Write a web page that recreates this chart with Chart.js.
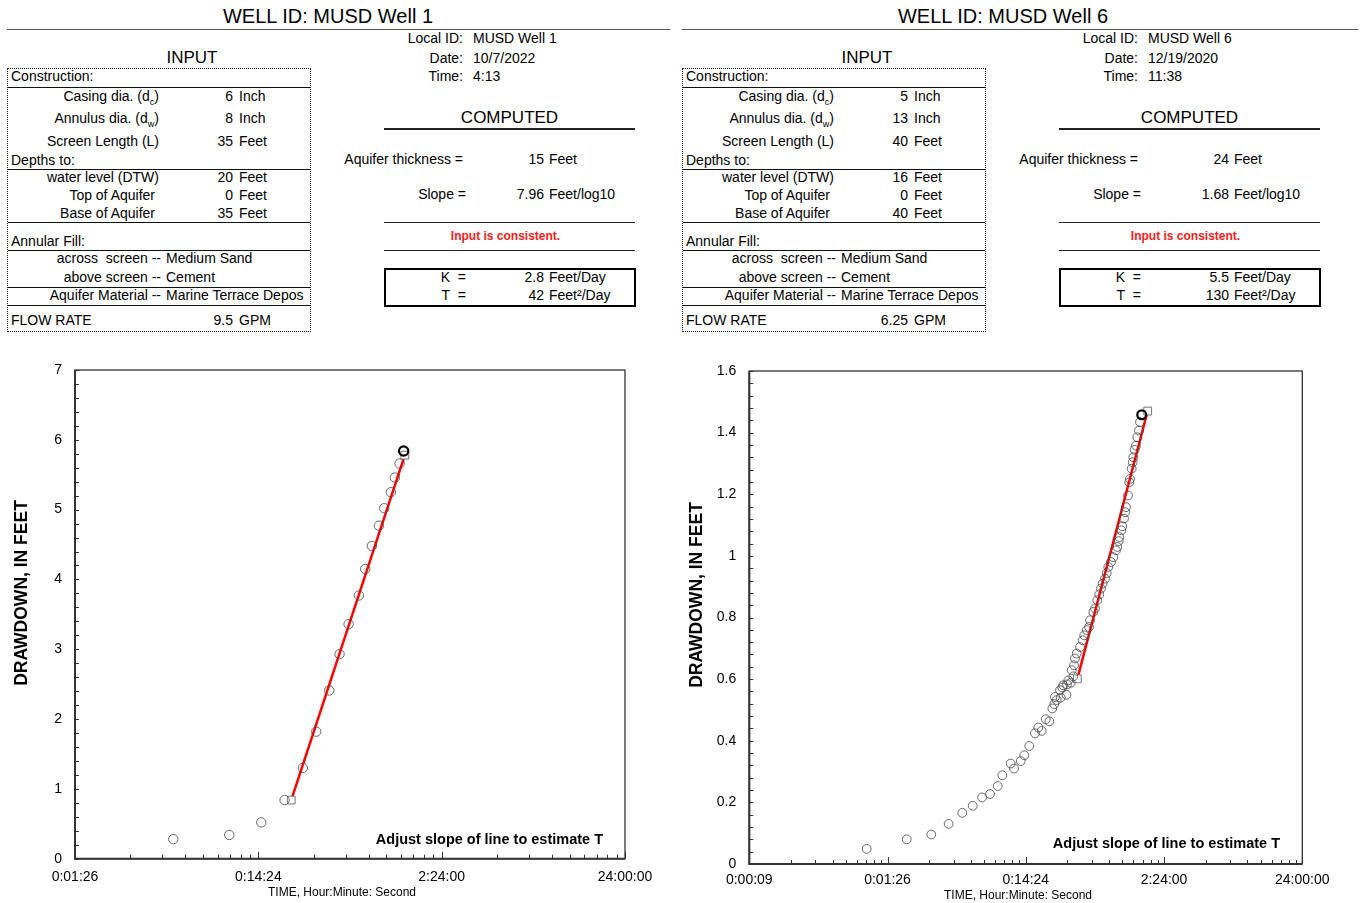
<!DOCTYPE html>
<html>
<head>
<meta charset="utf-8">
<script src="https://cdn.jsdelivr.net/npm/chart.js@4.4.0/dist/chart.umd.min.js"></script>
<style>
  body { margin: 0; background: #fff; width: 1364px; height: 903px; position: relative; overflow: hidden;
         font-family: "Liberation Sans", Arial, sans-serif; color: #000; }
  .t { position: absolute; white-space: nowrap; font-size: 14px; height: 18px; line-height: 18px; }
  .t sub { font-size: 9px; line-height: 0; }
  .rule { position: absolute; }
  canvas { position: absolute; }
</style>
</head>
<body>
<canvas id="well1" width="680" height="553" style="left:0;top:350px"></canvas>
<canvas id="well6" width="684" height="553" style="left:680px;top:350px"></canvas>
<script>
// ---- data (time in seconds, drawdown in feet) ----
const well1Time = [297, 600, 896, 1201, 1512, 1788, 2105, 2396, 2685, 3056, 3308, 3597, 3929, 4199, 4566, 4801, 5092, 5360];
const well1Drawdown = [0.28, 0.34, 0.52, 0.84, 1.30, 1.82, 2.41, 2.93, 3.36, 3.77, 4.15, 4.48, 4.77, 5.02, 5.25, 5.46, 5.66, 5.84];
const well1LineTime = [1306, 5440];
const well1LineDrawdown = [0.84, 5.78];

const well6Time = [61, 119, 179, 239, 300, 357, 417, 476, 541, 584, 672, 710, 794, 843, 916, 1007, 1064, 1126,
  1204, 1278, 1344, 1389, 1405, 1446, 1528, 1545, 1587, 1613, 1700, 1716, 1754, 1826, 1856, 1906, 1930, 1961,
  2017, 2131, 2229, 2289, 2383, 2476, 2518, 2659, 2735, 2842, 2938, 3023, 3110, 3232, 3325, 3414, 3571, 3711,
  3881, 3966, 4060, 4100, 4240, 4311, 4434, 4531, 4585, 4741, 4844, 4901, 5041, 5125, 5178, 5300, 5416, 5535,
  5694, 5789, 5956];
const well6Drawdown = [0.049, 0.080, 0.096, 0.130, 0.166, 0.189, 0.216, 0.227, 0.253, 0.288, 0.326, 0.310, 0.334,
  0.353, 0.383, 0.424, 0.443, 0.432, 0.470, 0.463, 0.505, 0.519, 0.542, 0.532, 0.564, 0.540, 0.573, 0.580, 0.549,
  0.583, 0.596, 0.588, 0.629, 0.609, 0.645, 0.667, 0.683, 0.704, 0.726, 0.742, 0.759, 0.769, 0.791, 0.818, 0.829,
  0.856, 0.875, 0.894, 0.910, 0.926, 0.944, 0.964, 0.980, 0.996, 1.018, 1.029, 1.048, 1.061, 1.083, 1.096, 1.121,
  1.142, 1.158, 1.196, 1.239, 1.250, 1.283, 1.304, 1.320, 1.344, 1.358, 1.385, 1.407, 1.434, 1.458];
const well6LineTime = [2038, 6580];
const well6LineDrawdown = [0.601, 1.47];

const well1XTicks = [86.4, 864, 8640, 86400];
const well1XLabels = ['0:01:26', '0:14:24', '2:24:00', '24:00:00'];
const well6XTicks = [8.64, 86.4, 864, 8640, 86400];
const well6XLabels = ['0:00:09', '0:01:26', '0:14:24', '2:24:00', '24:00:00'];
const well1YTicks = [0, 1, 2, 3, 4, 5, 6, 7];
const well1YLabels = ['0', '1', '2', '3', '4', '5', '6', '7'];
const well6YTicks = [0, 0.2, 0.4, 0.6, 0.8, 1.0, 1.2, 1.4, 1.6];
const well6YLabels = ['0', '0.2', '0.4', '0.6', '0.8', '1', '1.2', '1.4', '1.6'];

// ---- header sheet values ----
const inputLabels = ['Casing dia. (d<sub>c</sub>)', 'Annulus dia. (d<sub>w</sub>)', 'Screen Length (L)',
  'water level (DTW)', 'Top of Aquifer', 'Base of Aquifer'];
const inputUnits = ['Inch', 'Inch', 'Feet', 'Feet', 'Feet', 'Feet'];
const well1Input = ['6', '8', '35', '20', '0', '35'];
const well6Input = ['5', '13', '40', '16', '0', '40'];
const well1Meta = ['MUSD Well 1', '10/7/2022', '4:13'];
const well6Meta = ['MUSD Well 6', '12/19/2020', '11:38'];
const well1Computed = ['15', '7.96', '2.8', '42'];
const well6Computed = ['24', '1.68', '5.5', '130'];
const well1Flow = '9.5';
const well6Flow = '6.25';

const fam = '"Liberation Sans", Arial, sans-serif';

function txt(x, y, s, align, style) {
  const d = document.createElement('div');
  d.className = 't';
  d.innerHTML = s;
  if (align === 'right') {
    d.style.left = (x - 300) + 'px'; d.style.width = '300px'; d.style.textAlign = 'right';
  } else if (align === 'center') {
    d.style.left = (x - 300) + 'px'; d.style.width = '600px'; d.style.textAlign = 'center';
  } else {
    d.style.left = x + 'px';
  }
  d.style.top = (y - 9) + 'px';
  if (style) Object.assign(d.style, style);
  document.body.appendChild(d);
  return d;
}

function rule(x1, x2, y, h, color) {
  const d = document.createElement('div');
  d.className = 'rule';
  d.style.left = x1 + 'px';
  d.style.width = (x2 - x1) + 'px';
  d.style.top = (y - h / 2) + 'px';
  d.style.height = h + 'px';
  d.style.background = color;
  document.body.appendChild(d);
}

function frameBox(x1, y1, x2, y2, border) {
  const d = document.createElement('div');
  d.className = 'rule';
  d.style.left = x1 + 'px';
  d.style.top = y1 + 'px';
  d.style.width = (x2 - x1) + 'px';
  d.style.height = (y2 - y1) + 'px';
  d.style.border = border;
  d.style.boxSizing = 'border-box';
  document.body.appendChild(d);
}

function header(o, id, titleEnd, input, flow, meta, comp, s) {
  txt(o + 328, 16, 'WELL ID: ' + id, 'center', { fontSize: '20px', height: '22px', lineHeight: '22px', top: '5px' });
  rule(o + 7, titleEnd, 29.5, 1.6, '#555');

  // input sheet
  txt(o + 192, 58, 'INPUT', 'center', { fontSize: '17px' });
  frameBox(o + 7, 68, o + 311, 332, '1px dotted #222');
  txt(o + 11, 76, 'Construction:');
  rule(o + 8, o + 310, 87.5, 1, '#111');
  const ys = [96, 118, 141, 177, 195, 213];
  const ends = [159, 159, 159, 159, 155, 155];
  inputLabels.forEach((l, i) => {
    txt(o + ends[i], ys[i], l, 'right');
    txt(o + 233, ys[i], input[i], 'right');
    txt(o + 239, ys[i], inputUnits[i]);
  });
  txt(o + 11, 160, 'Depths to:');
  rule(o + 8, o + 310, 169, 1, '#111');
  rule(o + 8, o + 310, 222.5, 1, '#111');
  txt(o + 11, 241, 'Annular Fill:');
  rule(o + 8, o + 310, 250.5, 1, '#111');
  txt(o + 161, 258, 'across&nbsp; screen --', 'right');
  txt(o + 166, 258, 'Medium Sand');
  txt(o + 161, 277, 'above screen --', 'right');
  txt(o + 166, 277, 'Cement');
  rule(o + 8, o + 310, 287, 1, '#111');
  txt(o + 161, 295, 'Aquifer Material --', 'right');
  txt(o + 166, 295, 'Marine Terrace Depos', null, { width: '144px', overflow: 'hidden' });
  rule(o + 8, o + 310, 305.5, 1, '#111');
  txt(o + 11, 320, 'FLOW RATE');
  txt(o + 233, 320, flow, 'right');
  txt(o + 239, 320, 'GPM');

  // well info
  txt(o + 463, 38, 'Local ID:', 'right');
  txt(o + 473, 38, meta[0]);
  txt(o + 463, 58, 'Date:', 'right');
  txt(o + 473, 58, meta[1]);
  txt(o + 463, 76, 'Time:', 'right');
  txt(o + 473, 76, meta[2]);

  // computed block
  const L = o + 384, R = o + 635 + s;
  txt((L + R) / 2, 118, 'COMPUTED', 'center', { fontSize: '17px' });
  rule(L, R, 129, 1.3, '#222');
  txt(o + 463, 159, 'Aquifer thickness =', 'right');
  txt(o + 544 + s, 159, comp[0], 'right');
  txt(o + 549 + s, 159, 'Feet');
  txt(o + 466, 194, 'Slope =', 'right');
  txt(o + 544 + s, 194, comp[1], 'right');
  txt(o + 549 + s, 194, 'Feet/log10');
  rule(L, R, 222.5, 1.3, '#222');
  txt((L + R) / 2 - 4, 236, 'Input is consistent.', 'center', { fontSize: '12px', fontWeight: 'bold', color: '#ff1a1a' });
  rule(L, R, 250.5, 1.3, '#222');
  frameBox(L, 268, R + 1, 307, '2px solid #000');
  txt(o + 466, 277, 'K&nbsp; =', 'right');
  txt(o + 544 + s, 277, comp[2], 'right');
  txt(o + 549 + s, 277, 'Feet/Day');
  txt(o + 466, 295, 'T&nbsp; =', 'right');
  txt(o + 544 + s, 295, comp[3], 'right');
  txt(o + 549 + s, 295, 'Feet²/Day');
}

header(0, 'MUSD Well 1', 670, well1Input, well1Flow, well1Meta, well1Computed, 0);
header(675, 'MUSD Well 6', 1358, well6Input, well6Flow, well6Meta, well6Computed, 10);

// frame, inward minor ticks and plot texts
const decor = {
  id: 'decor',
  afterDraw(chart, args, o) {
    const { ctx, chartArea: a } = chart;
    const x = chart.scales.x, y = chart.scales.y;
    ctx.save();
    ctx.strokeStyle = '#333';
    ctx.lineWidth = 1;
    ctx.beginPath();
    const n = Math.round(y.max / o.yMinor);
    for (let i = 0; i <= n; i++) {
      const py = Math.round(y.getPixelForValue(i * o.yMinor)) + 0.5;
      ctx.moveTo(a.left, py);
      ctx.lineTo(a.left + 4, py);
    }
    o.decades.forEach(base => {
      for (let k = 1; k <= 9; k++) {
        const v = base * k;
        if (v > x.max * 1.001) break;
        const px = Math.round(x.getPixelForValue(v)) + 0.5;
        ctx.moveTo(px, a.bottom);
        ctx.lineTo(px, a.bottom - (k === 1 ? 7 : 4));
      }
    });
    ctx.stroke();

    ctx.lineWidth = 1.3;
    ctx.strokeRect(a.left, a.top, a.right - a.left, a.bottom - a.top);
    ctx.lineWidth = 2;
    ctx.beginPath();
    ctx.moveTo(a.left, a.top);
    ctx.lineTo(a.left, a.bottom);
    ctx.lineTo(a.right, a.bottom);
    ctx.stroke();

    ctx.fillStyle = '#000';
    ctx.textBaseline = 'middle';
    ctx.font = 'bold 14.5px ' + fam;
    ctx.textAlign = 'right';
    ctx.fillText('Adjust slope of line to estimate T', o.noteX, o.noteY);
    ctx.font = '12px ' + fam;
    ctx.textAlign = 'center';
    ctx.fillText('TIME, Hour:Minute: Second', o.xTitleX, o.xTitleY);
    ctx.translate(o.yTitleX, o.yTitleY);
    ctx.rotate(-Math.PI / 2);
    ctx.font = 'bold 17.5px ' + fam;
    ctx.fillText('DRAWDOWN, IN FEET', 0, 0);
    ctx.restore();
  }
};

function drawWell(id, times, drawdowns, lineTimes, lineDrawdowns, xTicks, xLabels, yTicks, yLabels, g) {
  const pts = times.map((t, i) => ({ x: t, y: drawdowns[i] }));
  const line = lineTimes.map((t, i) => ({ x: t, y: lineDrawdowns[i] }));
  const last = pts.length - 1;
  new Chart(document.getElementById(id), {
    type: 'scatter',
    data: {
      datasets: [
        {
          data: line,
          showLine: true,
          borderColor: '#ff0000',
          borderWidth: 2.5,
          pointStyle: 'rect',
          pointRadius: 5.5,
          pointBorderWidth: 1,
          pointBorderColor: '#777',
          pointBackgroundColor: '#fff',
          order: 1
        },
        {
          data: pts,
          pointStyle: 'circle',
          pointRadius: g.r,
          pointBackgroundColor: 'rgba(0,0,0,0)',
          pointBorderColor: c => c.dataIndex === last ? '#000' : 'rgba(70,70,70,0.8)',
          pointBorderWidth: c => c.dataIndex === last ? 2.2 : 1,
          order: 0
        }
      ]
    },
    options: {
      responsive: false,
      animation: false,
      devicePixelRatio: 1,
      layout: { padding: { left: 0, top: g.top, right: g.right, bottom: 0 } },
      plugins: {
        legend: { display: false },
        tooltip: { enabled: false },
        decor: g.decor
      },
      scales: {
        x: {
          type: 'logarithmic',
          min: xTicks[0],
          max: xTicks[xTicks.length - 1],
          afterBuildTicks: s => { s.ticks = xTicks.map(v => ({ value: v })); },
          afterFit: s => { s.height = g.xh; s.paddingLeft = 0; s.paddingRight = 0; },
          grid: { display: false, drawTicks: false },
          border: { display: false },
          ticks: {
            autoSkip: false, maxRotation: 0, minRotation: 0, padding: g.xpad,
            color: '#000', font: { family: fam, size: 14 },
            callback: (v, i) => xLabels[i]
          }
        },
        y: {
          type: 'linear',
          min: 0,
          max: yTicks[yTicks.length - 1],
          afterBuildTicks: s => { s.ticks = yTicks.map(v => ({ value: v })); },
          afterFit: s => { s.width = g.yw; s.paddingTop = 0; s.paddingBottom = 0; },
          grid: { display: false, drawTicks: false },
          border: { display: false },
          ticks: {
            padding: 13, color: '#000', font: { family: fam, size: 14 },
            callback: (v, i) => yLabels[i]
          }
        }
      }
    },
    plugins: [decor]
  });
}

drawWell('well1', well1Time, well1Drawdown, well1LineTime, well1LineDrawdown,
  well1XTicks, well1XLabels, well1YTicks, well1YLabels,
  { r: 4.7, top: 20, right: 55, xh: 44.3, yw: 75, xpad: 10,
    decor: { yMinor: 0.2, decades: well1XTicks, noteX: 603, noteY: 490, xTitleX: 342, xTitleY: 543, yTitleX: 22, yTitleY: 243 } });

drawWell('well6', well6Time, well6Drawdown, well6LineTime, well6LineDrawdown,
  well6XTicks, well6XLabels, well6YTicks, well6YLabels,
  { r: 4.4, top: 21, right: 61.7, xh: 39, yw: 69.3, xpad: 8,
    decor: { yMinor: 0.04, decades: well6XTicks, noteX: 600, noteY: 494, xTitleX: 338, xTitleY: 546, yTitleX: 17, yTitleY: 245 } });
</script>
</body>
</html>
